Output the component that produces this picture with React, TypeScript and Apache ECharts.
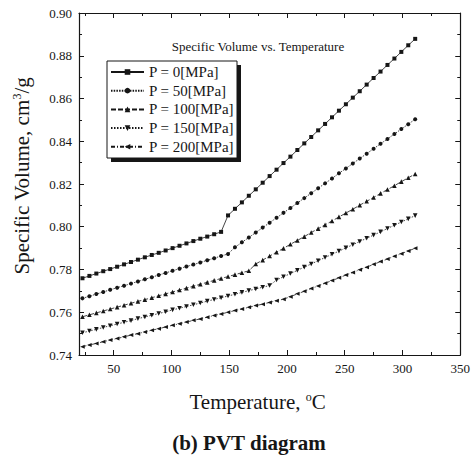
import React, { useEffect, useRef } from "react";
import * as echarts from "echarts";

const temps = [23, 29, 35, 41, 47, 53, 59, 65, 71, 77, 83, 89, 95, 101, 107, 113, 119, 125, 131, 137, 143, 149, 155, 161, 167, 173, 179, 185, 191, 197, 203, 209, 215, 221, 227, 233, 239, 245, 251, 257, 263, 269, 275, 281, 287, 293, 299, 305, 311];

const p0 = [0.7759, 0.777, 0.7781, 0.7792, 0.7802, 0.7813, 0.7824, 0.7835, 0.7846, 0.7857, 0.7868, 0.7878, 0.7889, 0.79, 0.7911, 0.7922, 0.7933, 0.7944, 0.7954, 0.7965, 0.7976, 0.8053, 0.8084, 0.8114, 0.8145, 0.8175, 0.8206, 0.8237, 0.8267, 0.8298, 0.8328, 0.8359, 0.839, 0.842, 0.8451, 0.8481, 0.8512, 0.8543, 0.8573, 0.8604, 0.8634, 0.8665, 0.8696, 0.8726, 0.8757, 0.8787, 0.8818, 0.8849, 0.8879];

const p50 = [0.7665, 0.7675, 0.7685, 0.7695, 0.7705, 0.7715, 0.7724, 0.7734, 0.7744, 0.7754, 0.7764, 0.7774, 0.7784, 0.7794, 0.7804, 0.7814, 0.7823, 0.7833, 0.7843, 0.7853, 0.7863, 0.7873, 0.7904, 0.7927, 0.795, 0.7973, 0.7996, 0.8019, 0.8042, 0.8065, 0.8088, 0.8111, 0.8134, 0.8157, 0.818, 0.8203, 0.8226, 0.825, 0.8273, 0.8296, 0.8319, 0.8342, 0.8365, 0.8388, 0.8411, 0.8434, 0.8457, 0.848, 0.8503];

const p100 = [0.7579, 0.7588, 0.7597, 0.7606, 0.7615, 0.7624, 0.7633, 0.7642, 0.7651, 0.7659, 0.7668, 0.7677, 0.7686, 0.7695, 0.7704, 0.7713, 0.7722, 0.7731, 0.774, 0.7749, 0.7758, 0.7767, 0.7776, 0.7785, 0.7794, 0.7826, 0.7844, 0.7863, 0.7881, 0.7899, 0.7918, 0.7936, 0.7954, 0.7973, 0.7991, 0.8009, 0.8027, 0.8046, 0.8064, 0.8082, 0.8101, 0.8119, 0.8137, 0.8156, 0.8174, 0.8192, 0.8211, 0.8229, 0.8247];

const p150 = [0.7504, 0.7512, 0.752, 0.7529, 0.7537, 0.7545, 0.7553, 0.7561, 0.757, 0.7578, 0.7586, 0.7594, 0.7602, 0.7611, 0.7619, 0.7627, 0.7635, 0.7643, 0.7652, 0.766, 0.7668, 0.7676, 0.7684, 0.7693, 0.7701, 0.7709, 0.7717, 0.7725, 0.7751, 0.7766, 0.7781, 0.7796, 0.7811, 0.7826, 0.7841, 0.7856, 0.7871, 0.7886, 0.7901, 0.7916, 0.7931, 0.7946, 0.7961, 0.7976, 0.7992, 0.8007, 0.8022, 0.8037, 0.8052];

const p200 = [0.7439, 0.7447, 0.7454, 0.7462, 0.747, 0.7477, 0.7485, 0.7493, 0.75, 0.7508, 0.7516, 0.7523, 0.7531, 0.7539, 0.7546, 0.7554, 0.7562, 0.7569, 0.7577, 0.7585, 0.7592, 0.76, 0.7608, 0.7615, 0.7623, 0.7631, 0.7638, 0.7646, 0.7654, 0.7661, 0.7673, 0.7686, 0.7698, 0.7711, 0.7723, 0.7736, 0.7748, 0.7761, 0.7774, 0.7786, 0.7799, 0.7811, 0.7824, 0.7837, 0.7849, 0.7862, 0.7874, 0.7887, 0.7899];

const seriesNames = ["P = 0[MPa]", "P = 50[MPa]", "P = 100[MPa]", "P = 150[MPa]", "P = 200[MPa]"];
const seriesValues = [p0, p50, p100, p150, p200];

const xMajorTicks = [50, 100, 150, 200, 250, 300, 350];
const xMinorTicks = [25, 75, 125, 175, 225, 275, 325];

const FONT = "'Liberation Serif', 'Times New Roman', serif";
const INK = "#161616";

const symbols = ["rect", "circle", "triangle", "triangle", "path://M0,0 L10,-6 L10,6 Z"];
const symbolRotates = [0, 0, 0, 180, 0];
const symbolSizes: any[] = [4, 4, 4.6, 4.6, [4.6, 4]];
const lineTypes: any[] = ["solid", [1.5, 1.2], [5, 2], [1.5, 1.5], [4, 2, 1, 2]];

export default function App() {
  const ref = useRef<HTMLDivElement>(null);
  useEffect(() => {
    if (!ref.current) return;
    const chart = echarts.init(ref.current, null, { renderer: "svg" });
    const baseX = {
      type: "value",
      min: 20,
      max: 350,
      splitLine: { show: false },
      axisLine: { show: true, lineStyle: { color: INK, width: 1.2 } },
    };
    const baseY = {
      type: "value",
      min: 0.74,
      max: 0.9,
      interval: 0.02,
      splitLine: { show: false },
      axisLine: { show: true, lineStyle: { color: INK, width: 1.2 } },
      axisTick: { show: true, inside: true, length: 5, lineStyle: { color: INK } },
      minorTick: { show: true, splitNumber: 2, length: 3, lineStyle: { color: INK } },
    };
    const option: any = {
      animation: false,
      backgroundColor: "#fff",
      title: [
        {
          text: "Specific Volume vs. Temperature",
          left: 253,
          top: 35,
          textAlign: "center",
          textStyle: { fontFamily: FONT, fontSize: 13, fontWeight: "normal", color: INK },
        },
        {
          text: "(b) PVT diagram",
          left: 244,
          top: 427,
          textAlign: "center",
          textStyle: { fontFamily: FONT, fontSize: 21, fontWeight: "bold", color: INK },
        },
      ],
      grid: { left: 79, right: 10, top: 13, bottom: 106, containLabel: false },
      xAxis: [
        {
          ...baseX,
          position: "bottom",
          name: "Temperature, {sup|o}C",
          nameLocation: "middle",
          nameGap: 36,
          nameTextStyle: {
            fontFamily: FONT,
            fontSize: 21,
            color: INK,
            padding: [0, 24, 0, 0],
            rich: { sup: { fontFamily: FONT, fontSize: 12, color: INK, verticalAlign: "top", padding: [0, 0, 10, 0] } },
          },
          axisTick: { show: true, inside: true, length: 5, customValues: xMajorTicks, lineStyle: { color: INK } },
          axisLabel: { show: true, customValues: xMajorTicks, margin: 7, fontFamily: FONT, fontSize: 13, color: INK },
        },
        {
          ...baseX,
          position: "top",
          axisTick: { show: true, inside: true, length: 5, customValues: xMajorTicks, lineStyle: { color: INK } },
          axisLabel: { show: false },
        },
        {
          ...baseX,
          position: "bottom",
          axisLine: { show: false },
          axisTick: { show: true, inside: true, length: 3, customValues: xMinorTicks, lineStyle: { color: INK } },
          axisLabel: { show: false },
        },
        {
          ...baseX,
          position: "top",
          axisLine: { show: false },
          axisTick: { show: true, inside: true, length: 3, customValues: xMinorTicks, lineStyle: { color: INK } },
          axisLabel: { show: false },
        },
      ],
      yAxis: [
        {
          ...baseY,
          position: "left",
          name: "Specific Volume, cm{sup|3}/g",
          nameLocation: "middle",
          nameGap: 46,
          nameRotate: 90,
          nameTextStyle: {
            fontFamily: FONT,
            fontSize: 21,
            color: INK,
            padding: [0, 0, 0, 16],
            rich: { sup: { fontFamily: FONT, fontSize: 12, color: INK, verticalAlign: "top", padding: [0, 0, 10, 0] } },
          },
          axisLabel: {
            show: true,
            margin: 7,
            fontFamily: FONT,
            fontSize: 13,
            color: INK,
            formatter: (v: number) => v.toFixed(2),
          },
        },
        {
          ...baseY,
          position: "right",
          axisLabel: { show: false },
        },
      ],
      legend: {
        orient: "vertical",
        left: 110,
        top: 64,
        itemWidth: 33,
        itemHeight: 7,
        itemGap: 2.7,
        padding: 0,
        textStyle: { fontFamily: FONT, fontSize: 15, color: INK, lineHeight: 16 },
        data: seriesNames,
      },
      graphic: [
        { type: "rect", z: 0, shape: { x: 111, y: 65, width: 130, height: 97 }, style: { fill: INK } },
        { type: "rect", z: 1, shape: { x: 107, y: 61, width: 130, height: 97 }, style: { fill: "#fff", stroke: INK, lineWidth: 1 } },
      ],
      series: seriesNames.map((name, k) => ({
        name,
        type: "line",
        xAxisIndex: 0,
        yAxisIndex: 0,
        z: 3,
        data: temps.map((t, i) => [t, seriesValues[k][i]]),
        symbol: symbols[k],
        symbolRotate: symbolRotates[k],
        symbolSize: symbolSizes[k],
        showSymbol: true,
        lineStyle: { color: INK, width: 0.8, type: lineTypes[k] },
        itemStyle: { color: INK, borderWidth: 0 },
      })),
    };
    chart.setOption(option);
    return () => chart.dispose();
  }, []);
  return <div ref={ref} style={{ width: 473, height: 461, position: "absolute", left: 0, top: 0 }} />;
}
